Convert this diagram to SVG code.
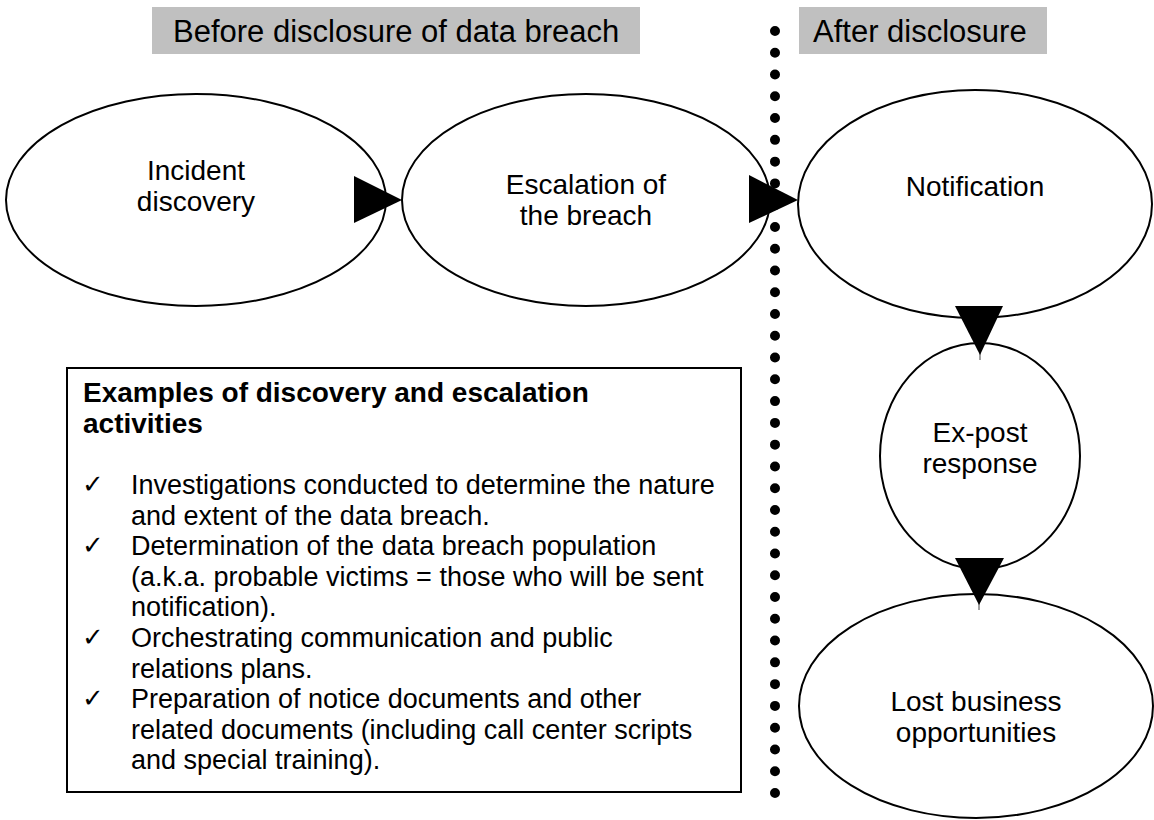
<svg xmlns="http://www.w3.org/2000/svg" width="1154" height="820" viewBox="0 0 1154 820">
<style>
  text { font-family: "Liberation Sans", Arial, Helvetica, sans-serif; fill: #000; }
  .hdr { font-size: 31px; }
  .lbl { font-size: 28px; text-anchor: middle; }
  .node { fill: #fff; stroke: #000; stroke-width: 2; }
  .band { fill: #c0c0c0; }
  .head { font-size: 28px; font-weight: bold; }
  .item { font-size: 27px; }
  .chk { font-family: "DejaVu Sans", sans-serif; font-size: 26px; }
  .arrow { fill: #000; }
  .tail { stroke: #808080; stroke-width: 1.5; }
</style>
<rect width="1154" height="820" fill="#fff"/>

<g id="header-before">
  <rect class="band" x="152" y="7" width="488" height="47"/>
  <text class="hdr" x="173" y="42">Before disclosure of data breach</text>
</g>
<g id="header-after">
  <rect class="band" x="799" y="7" width="248" height="47"/>
  <text class="hdr" x="813" y="42">After disclosure</text>
</g>

<g id="incident-discovery">
  <ellipse class="node" cx="196" cy="200" rx="190" ry="106"/>
  <text class="lbl" x="196" y="180">Incident</text>
  <text class="lbl" x="196" y="211">discovery</text>
</g>
<g id="escalation">
  <ellipse class="node" cx="586" cy="200" rx="184" ry="106"/>
  <text class="lbl" x="586" y="194">Escalation of</text>
  <text class="lbl" x="586" y="225">the breach</text>
</g>
<g id="notification">
  <ellipse class="node" cx="975" cy="204" rx="177" ry="114"/>
  <text class="lbl" x="975" y="196">Notification</text>
</g>
<g id="ex-post-response">
  <ellipse class="node" cx="980" cy="456" rx="100" ry="113"/>
  <text class="lbl" x="980" y="442">Ex-post</text>
  <text class="lbl" x="980" y="473">response</text>
</g>
<g id="lost-business">
  <ellipse class="node" cx="976" cy="706" rx="177" ry="112"/>
  <text class="lbl" x="976" y="711">Lost business</text>
  <text class="lbl" x="976" y="742">opportunities</text>
</g>

<g id="connectors">
  <line class="tail" x1="980" y1="318" x2="980" y2="360"/>
  <line class="tail" x1="979" y1="569" x2="979" y2="610"/>
  <polygon class="arrow" points="354,176 354,223 402,200"/>
  <polygon class="arrow" points="749,175 749,223 798,200"/>
  <polygon class="arrow" points="955,306 1003,306 980,355"/>
  <polygon class="arrow" points="955,558 1004,558 979,605"/>
</g>

<g id="divider">
  <line x1="775" y1="31" x2="775" y2="793" stroke="#000" stroke-width="10" stroke-linecap="round" stroke-dasharray="0 21.771"/>
</g>

<g id="examples-box">
  <rect x="67" y="368" width="674" height="424" fill="#fff" stroke="#000" stroke-width="2"/>
  <text class="head" x="83" y="402">Examples of discovery and escalation</text>
  <text class="head" x="83" y="433">activities</text>
  <text class="chk" x="82" y="493">✓</text>
  <text class="item" x="131" y="494">Investigations conducted to determine the nature</text>
  <text class="item" x="131" y="524.6">and extent of the data breach.</text>
  <text class="chk" x="82" y="554">✓</text>
  <text class="item" x="131" y="555.2">Determination of the data breach population</text>
  <text class="item" x="131" y="585.8">(a.k.a. probable victims = those who will be sent</text>
  <text class="item" x="131" y="616.4">notification).</text>
  <text class="chk" x="82" y="646">✓</text>
  <text class="item" x="131" y="647">Orchestrating communication and public</text>
  <text class="item" x="131" y="677.6">relations plans.</text>
  <text class="chk" x="82" y="707">✓</text>
  <text class="item" x="131" y="708.2">Preparation of notice documents and other</text>
  <text class="item" x="131" y="738.8">related documents (including call center scripts</text>
  <text class="item" x="131" y="769.4">and special training).</text>
</g>
</svg>
